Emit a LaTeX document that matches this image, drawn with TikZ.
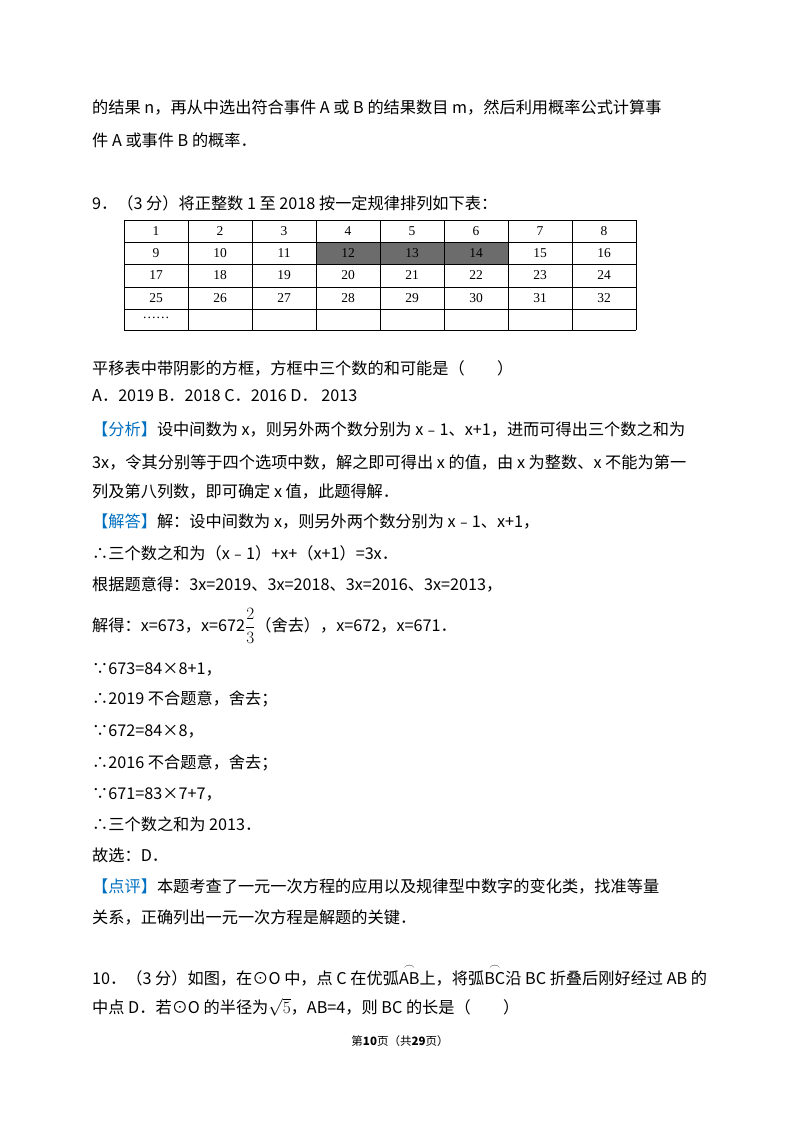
\documentclass[tikz,border=0pt]{standalone}
\usepackage{amsmath}
\usepackage{fontspec}
\setmainfont{Noto Sans CJK SC}
\newfontfamily\serifcjk{Liberation Serif}
\definecolor{kb}{RGB}{0,112,192}
\begin{document}
\begin{tikzpicture}[x=1pt,y=-1pt,
  ln/.style={anchor=west,inner sep=0pt,font=\fontsize{16.2}{18}\selectfont},
  cell/.style={font=\serifcjk\fontsize{13.5}{14}\selectfont,inner sep=0pt}]
\useasboundingbox[fill=white] (0,0) rectangle (800,1132);
\node[ln] (l1) at (92,107) {的结果 n，再从中选出符合事件 A 或 B 的结果数目 m，然后利用概率公式计算事};
\node[ln] (l2) at (92,140) {件 A 或事件 B 的概率．};
\node[ln] (l3) at (92,203) {9．（3 分）将正整数 1 至 2018 按一定规律排列如下表：};
% table
\fill[gray!85!black] (316,242) rectangle (508,264);
\foreach \i in {0,...,8} \draw[line width=0.8pt] ({124+64*\i},220) -- ({124+64*\i},330);
\foreach \y in {220,242,264,287,309,330} \draw[line width=0.8pt] (124,\y) -- (636,\y);
\foreach \r/\y in {0/231,1/253,2/275.5,3/298}{
  \foreach \c in {1,...,8}{
    \pgfmathtruncatemacro{\v}{8*\r+\c}
    \node[cell] (c\r\c) at ({124+64*\c-32},\y) {\v};
  }
}
\node[cell] (dots) at (156,318) {……};
\node[ln] (l4) at (92,368) {平移表中带阴影的方框，方框中三个数的和可能是（\hspace{2em}）};
\node[ln] (l5) at (92,396) {A．2019 B．2018 C．2016 D． 2013};
\node[ln] (l6) at (92,430) {\textcolor{kb}{【分析】}设中间数为 x，则另外两个数分别为 x﹣1、x+1，进而可得出三个数之和为};
\node[ln] (l7) at (92,463) {3x，令其分别等于四个选项中数，解之即可得出 x 的值，由 x 为整数、x 不能为第一};
\node[ln] (l8) at (92,492) {列及第八列数，即可确定 x 值，此题得解．};
\node[ln] (l9) at (92,522) {\textcolor{kb}{【解答】}解：设中间数为 x，则另外两个数分别为 x﹣1、x+1，};
\node[ln] (l10) at (92,553) {∴三个数之和为（x﹣1）+x+（x+1）=3x．};
\node[ln] (l11) at (92,584) {根据题意得：3x=2019、3x=2018、3x=2016、3x=2013，};
\node[ln] (l12) at (92,626) {解得：x=673，x=672$\dfrac{2}{3}$（舍去），x=672，x=671．};
\node[ln] (l13) at (92,669) {∵673=84×8+1，};
\node[ln] (l14) at (92,699) {∴2019 不合题意，舍去；};
\node[ln] (l15) at (92,731) {∵672=84×8，};
\node[ln] (l16) at (92,763) {∴2016 不合题意，舍去；};
\node[ln] (l17) at (92,794) {∵671=83×7+7，};
\node[ln] (l18) at (92,824) {∴三个数之和为 2013．};
\node[ln] (l19) at (92,855) {故选：D．};
\node[ln] (l20) at (92,886) {\textcolor{kb}{【点评】}本题考查了一元一次方程的应用以及规律型中数字的变化类，找准等量};
\node[ln] (l21) at (92,918) {关系，正确列出一元一次方程是解题的关键．};
\node[ln] (l22) at (92,975) {10．（3 分）如图，在⊙O 中，点 C 在优弧$\overset{\frown}{\text{AB}}$上，将弧$\overset{\frown}{\text{BC}}$沿 BC 折叠后刚好经过 AB 的};
\node[ln] (l23) at (92,1007) {中点 D．若⊙O 的半径为$\sqrt{5}$，AB=4，则 BC 的长是（\hspace{2em}）};
\node[anchor=center,inner sep=0pt,font=\fontsize{11.5}{13}\selectfont] (foot) at (400,1041) {第\textbf{10}页（共\textbf{29}页）};
\end{tikzpicture}
\end{document}
